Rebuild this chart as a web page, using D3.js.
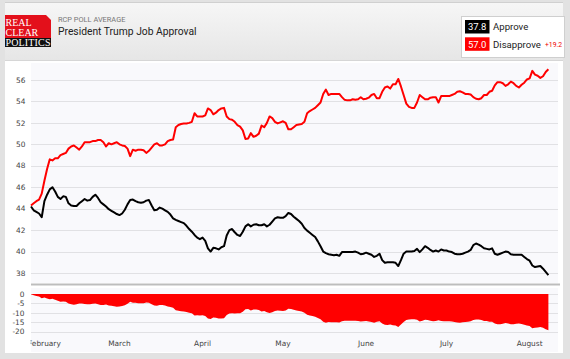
<!DOCTYPE html>
<html><head><meta charset="utf-8">
<script src="https://cdn.jsdelivr.net/npm/d3@7"></script>
<style>html,body{margin:0;padding:0;background:#e4e4e4;}svg{display:block;}</style>
</head><body>
<svg id="c" width="570" height="359"></svg>
<script>
// ---- data ----
const startDate = Date.UTC(2017, 0, 27);
const approve = [
44.2,43.85,43.7,43.55,43.2,44.7,45.3,45.8,46.0,45.6,
45.1,44.9,45.15,45.1,44.5,44.3,44.25,44.25,44.5,44.7,
44.9,44.75,44.8,45.1,45.3,45.0,44.6,44.4,44.2,43.95,
43.8,43.65,43.5,43.4,43.55,43.9,44.4,44.8,44.85,44.7,
44.6,44.55,44.6,44.75,44.8,44.3,43.85,43.9,44.1,44.0,
43.85,43.7,43.45,43.1,42.95,42.85,42.75,42.65,42.4,42.1,
41.85,41.55,41.3,41.15,41.3,41.0,40.3,40.0,40.35,40.3,
40.2,40.4,40.5,41.5,42.0,42.1,41.8,41.55,41.45,41.85,
42.35,42.55,42.35,42.5,42.55,42.45,42.45,42.55,42.35,42.5,
42.8,43.1,43.2,43.15,43.15,43.3,43.6,43.5,43.25,43.05,
42.85,42.6,42.2,41.95,41.75,41.55,41.35,40.95,40.5,40.0,
39.85,39.75,39.7,39.65,39.7,39.6,39.95,39.95,39.95,39.95,
39.95,40.0,39.9,39.75,39.8,39.9,39.8,39.7,39.5,39.6,
39.8,39.2,38.95,39.0,39.0,39.0,38.95,38.65,39.2,39.8,
40.0,40.0,40.0,40.05,40.25,39.95,40.2,40.5,40.35,40.15,
40.0,40.1,40.0,40.2,40.1,40.1,40.0,39.95,39.8,39.75,
39.75,39.8,39.9,40.0,40.15,40.6,40.75,40.65,40.5,40.3,
40.25,40.2,40.3,39.8,39.7,39.8,39.9,40.0,39.95,39.75,
39.7,39.7,39.7,39.7,39.5,39.3,39.15,38.7,38.55,38.6,
38.65,38.4,38.1,37.8];
const disapprove = [
44.3,44.5,44.7,44.85,45.4,46.6,47.7,48.6,48.5,48.7,
48.7,49.0,49.1,49.2,49.6,49.8,49.9,49.7,49.5,49.8,
50.2,50.2,50.2,50.3,50.3,50.4,50.4,50.2,49.8,50.1,
50.0,50.1,50.2,50.0,49.9,49.85,49.6,48.9,49.5,49.4,
49.5,49.5,49.45,49.2,49.4,49.7,50.0,50.1,49.9,49.9,
50.0,50.3,50.4,50.45,51.6,51.8,51.9,51.95,51.95,52.0,
52.1,52.9,52.6,52.6,52.6,52.7,53.35,53.2,52.8,52.95,
53.2,53.35,53.4,52.6,52.35,52.3,52.1,51.8,51.65,51.3,
50.5,50.55,51.05,50.7,50.8,51.0,51.75,51.6,52.0,52.6,
52.45,52.1,51.95,52.05,52.15,52.0,51.4,51.4,51.6,51.8,
51.85,51.9,52.1,52.9,53.1,53.25,53.4,53.65,53.9,54.7,
55.1,54.6,54.7,54.7,54.7,54.7,54.4,54.15,54.1,54.1,
54.2,54.15,54.2,54.4,54.2,54.25,54.35,54.6,54.7,54.3,
54.3,54.9,55.3,55.4,55.2,55.6,55.6,56.1,55.4,54.6,
53.8,53.5,53.4,53.4,53.9,54.6,54.4,54.2,54.2,54.35,
54.4,54.4,53.9,54.5,54.5,54.5,54.5,54.6,54.7,54.9,
54.95,54.85,54.7,54.7,54.65,54.4,54.25,54.2,54.3,54.6,
54.6,54.9,55.0,55.5,55.8,55.8,55.7,55.45,55.6,55.85,
55.7,55.45,55.3,55.55,55.75,56.05,56.15,56.85,56.5,56.4,
56.2,56.35,56.75,57.0];
const months = ["February","March","April","May","June","July","August"];
const monthStarts = ["2017-02-01","2017-03-01","2017-04-01","2017-05-01","2017-06-01","2017-07-01","2017-08-01"];
const yTicks = [38,40,42,44,46,48,50,52,54,56];
const spreadTicks = [0,-5,-10,-15,-20];
const seriesNames = ["Approve","Disapprove"];
const seriesColors = ["#000000","#ff0000"];

// ---- build ----
const dates = approve.map((_, i) => new Date(startDate + i * 864e5));
const rows = dates.map((d, i) => ({d, a: approve[i], r: disapprove[i], s: +(approve[i] - disapprove[i]).toFixed(2)}));

const svg = d3.select("#c");
const L = 31, R = 558;
const x = d3.scaleUtc().domain([new Date(startDate), new Date(Date.UTC(2017,7,11,14))]).range([L, R]);
const y = d3.scaleLinear().domain([38, 56]).range([273, 80]);
const ys = d3.scaleLinear().domain([-20, 0]).range([331.7, 294]);

const defs = svg.append("defs");
const g1 = defs.append("linearGradient").attr("id","hdr").attr("x1",0).attr("y1",0).attr("x2",0).attr("y2",1);
g1.append("stop").attr("offset","0%").attr("stop-color","#f6f6f6");
g1.append("stop").attr("offset","100%").attr("stop-color","#e6e6e6");
defs.append("clipPath").attr("id","mclip").append("rect").attr("x",30.5).attr("y",330).attr("width",540).attr("height",25);

// frame
svg.append("rect").attr("width",570).attr("height",359).attr("fill","#e2e2e2");
svg.append("rect").attr("x",5).attr("y",2).attr("width",558).attr("height",351).attr("fill","#ffffff");
svg.append("rect").attr("x",5).attr("y",3).attr("width",558).attr("height",57).attr("fill","url(#hdr)");
svg.append("line").attr("x1",5).attr("x2",563).attr("y1",2.5).attr("y2",2.5).attr("stroke","#d0d0d0");
svg.append("line").attr("x1",5).attr("x2",563).attr("y1",60.5).attr("y2",60.5).attr("stroke","#d6d6d6");

// logo
const logo = svg.append("g");
logo.append("path").attr("d","M5,15 H46 L51,20 V38 H5 Z").attr("fill","#e3101b");
logo.append("rect").attr("x",5).attr("y",38).attr("width",46).attr("height",9).attr("fill","#111");
const lf = "'Liberation Serif','DejaVu Serif',serif";
logo.append("text").attr("x",5.5).attr("y",25.5).text("REAL").attr("fill","#fff").style("font-family",lf).style("font-size","10px");
logo.append("text").attr("x",5.5).attr("y",35.5).text("CLEAR").attr("fill","#fff").style("font-family",lf).style("font-size","10px");
logo.append("text").attr("x",5.5).attr("y",46).text("POLITICS").attr("fill","#fff").style("font-family",lf).style("font-size","10px").attr("textLength",45);

svg.append("text").attr("x",58).attr("y",21.7).text("RCP POLL AVERAGE").attr("fill","#777").style("font-family","Roboto, sans-serif").style("font-size","7.4px");
svg.append("text").attr("x",58).attr("y",34.5).text("President Trump Job Approval").attr("fill","#222").style("font-family","Roboto, sans-serif").style("font-size","10.3px");

// legend
const lastA = approve[approve.length-1], lastR = disapprove[disapprove.length-1];
svg.append("rect").attr("x",461.5).attr("y",16.5).attr("width",103).attr("height",41).attr("fill","#fff").attr("stroke","#cfcfcf");
[lastA, lastR].forEach((v, i) => {
  const yy = 20 + i * 17.3;
  svg.append("rect").attr("x",465).attr("y",yy).attr("width",24.5).attr("height",13.5).attr("fill",seriesColors[i]);
  svg.append("text").attr("x",477.2).attr("y",yy+10.2).attr("text-anchor","middle").text(v.toFixed(1)).attr("fill","#fff")
    .style("font-family","Roboto, sans-serif").style("font-size","9.5px");
  svg.append("text").attr("x",493).attr("y",yy+10.2).text(seriesNames[i]).attr("fill","#222")
    .style("font-family","Roboto, sans-serif").style("font-size","9.6px");
});
svg.append("text").attr("x",545).attr("y",47.3).text("+" + (lastR - lastA).toFixed(1)).attr("fill","#e00")
  .style("font-family","Roboto, sans-serif").style("font-size","6.8px");

// plot backgrounds
svg.append("rect").attr("x",L).attr("y",63).attr("width",R-L).attr("height",220).attr("fill","#f9f9fc");
svg.append("rect").attr("x",L).attr("y",288).attr("width",R-L).attr("height",64).attr("fill","#f9f9fc");

// grid upper
const af = "'DejaVu Sans', Verdana, sans-serif";
svg.append("g").selectAll("line").data(yTicks).join("line")
  .attr("x1",L).attr("x2",R).attr("y1",d=>Math.round(y(d))+0.5).attr("y2",d=>Math.round(y(d))+0.5)
  .attr("stroke","#e1e1e4").attr("stroke-width",1);
svg.append("g").selectAll("text").data(yTicks).join("text")
  .attr("x",25.5).attr("y",d=>y(d)+2.7).attr("text-anchor","end").text(d=>d)
  .attr("fill","#444").style("font-family",af).style("font-size","7.4px");

// separator
svg.append("line").attr("x1",L).attr("x2",R+2).attr("y1",284.5).attr("y2",284.5).attr("stroke","#bdbdbd").attr("stroke-width",2);

// grid lower
svg.append("g").selectAll("line").data(spreadTicks).join("line")
  .attr("x1",L).attr("x2",R).attr("y1",d=>Math.round(ys(d))+0.5).attr("y2",d=>Math.round(ys(d))+0.5)
  .attr("stroke","#e1e1e4").attr("stroke-width",1);
svg.append("g").selectAll("text").data(spreadTicks).join("text")
  .attr("x",24.5).attr("y",d=>ys(d)+2.7).attr("text-anchor","end").text(d=>d)
  .attr("fill","#444").style("font-family",af).style("font-size","7.4px");

// spread area
svg.append("path").datum(rows)
  .attr("d", d3.area().x(d=>x(d.d)).y0(ys(0)).y1(d=>ys(d.s)))
  .attr("fill","#ff0000");

// lines
svg.append("path").datum(rows)
  .attr("d", d3.line().x(d=>x(d.d)).y(d=>y(d.r)))
  .attr("fill","none").attr("stroke",seriesColors[1]).attr("stroke-width",2).attr("stroke-linejoin","round");
svg.append("path").datum(rows)
  .attr("d", d3.line().x(d=>x(d.d)).y(d=>y(d.a)))
  .attr("fill","none").attr("stroke",seriesColors[0]).attr("stroke-width",2).attr("stroke-linejoin","round");

// month labels
svg.append("g").attr("clip-path","url(#mclip)").selectAll("text").data(months).join("text")
  .attr("x",(d,i)=>x(new Date(monthStarts[i]+"T00:00:00Z"))).attr("y",346)
  .attr("text-anchor","middle").text(d=>d)
  .attr("fill","#444").style("font-family",af).style("font-size","7.4px");
</script>
</body></html>
